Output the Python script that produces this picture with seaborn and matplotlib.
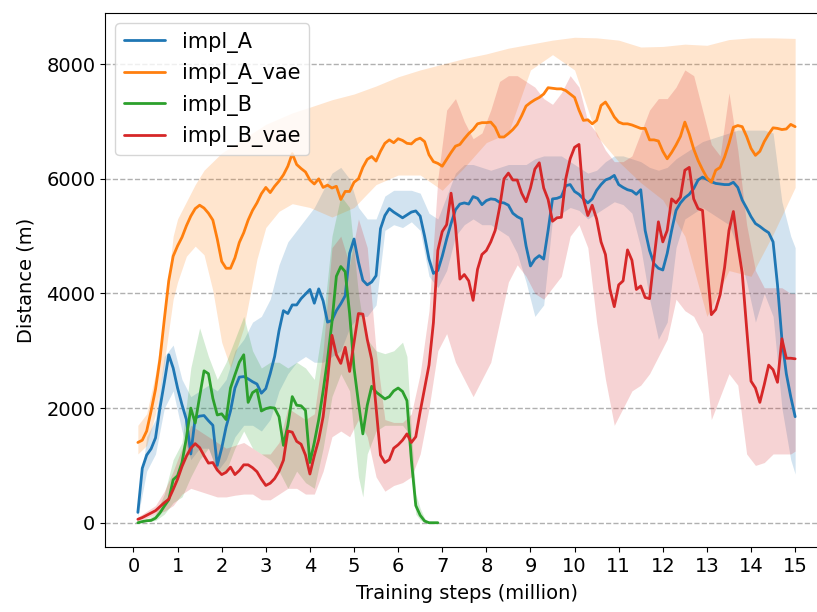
import numpy as np
import pandas as pd
import matplotlib
matplotlib.use("Agg")
import matplotlib.pyplot as plt
import seaborn as sns

# mean curves, one value every 0.1 million steps
steps = np.round(np.arange(1, 151) / 10, 1)
steps_b = np.round(np.arange(1, 70) / 10, 1)

impl_A = [180, 950, 1180, 1290, 1480, 2000, 2450, 2930, 2700, 2350,
          2060, 1800, 1200, 1830, 1860, 1870, 1780, 1700, 1000, 1300,
          1670, 1950, 2350, 2540, 2550, 2510, 2460, 2420, 2260, 2340,
          2600, 2900, 3350, 3700, 3650, 3800, 3800, 3910, 3990, 4070,
          3830, 4080, 3870, 3500, 3530, 3700, 3820, 3960, 4700, 4950,
          4550, 4230, 4150, 4200, 4310, 5130, 5360, 5480, 5420, 5370,
          5320, 5370, 5420, 5440, 5350, 5000, 4600, 4350, 4400, 4650,
          4950, 5220, 5460, 5560, 5580, 5560, 5690, 5660, 5550, 5620,
          5650, 5640, 5590, 5580, 5540, 5400, 5340, 5300, 4830, 4480,
          4600, 4660, 4600, 5100, 5650, 5660, 5690, 5880, 5900, 5780,
          5730, 5650, 5580, 5650, 5800, 5900, 5980, 6010, 6060, 5900,
          5850, 5810, 5790, 5730, 5810, 5100, 4750, 4520, 4440, 4410,
          4700, 5100, 5450, 5580, 5670, 5730, 5830, 5980, 6030, 5990,
          5950, 5920, 5910, 5900, 5900, 5940, 5850, 5630, 5490, 5340,
          5220, 5170, 5110, 5060, 4900, 4150, 3200, 2600, 2200, 1850]

impl_A_vae = [1400, 1440, 1600, 1950, 2330, 2850, 3550, 4220, 4650, 4830,
              4980, 5180, 5350, 5480, 5540, 5490, 5400, 5280, 4950, 4560,
              4440, 4440, 4620, 4890, 5060, 5280, 5450, 5580, 5740, 5850,
              5760, 5870, 5960, 6070, 6220, 6440, 6250, 6180, 6120, 5980,
              5910, 6000, 5850, 5890, 5840, 5870, 5640, 5780, 5780, 5940,
              6000, 6200, 6340, 6390, 6310, 6480, 6620, 6680, 6630, 6700,
              6670, 6620, 6610, 6680, 6710, 6650, 6420, 6300, 6270, 6220,
              6340, 6460, 6570, 6600, 6700, 6790, 6860, 6960, 6980, 6980,
              6990, 6900, 6730, 6730, 6790, 6860, 6950, 7100, 7270, 7330,
              7380, 7420, 7480, 7590, 7580, 7570, 7570, 7540, 7480, 7420,
              7200, 7020, 7030, 6960, 7020, 7280, 7340, 7220, 7080, 6990,
              6960, 6960, 6940, 6910, 6880, 6880, 6680, 6680, 6660, 6480,
              6350, 6460, 6590, 6740, 6990, 6780, 6520, 6320, 6160, 6020,
              5940, 6150, 6200, 6380, 6620, 6900, 6930, 6910, 6740, 6530,
              6410, 6480, 6650, 6780, 6890, 6880, 6860, 6870, 6950, 6910]

impl_B = [0, 20, 35, 40, 80, 170, 290, 400, 750, 820,
          1050, 1480, 2000, 1740, 2200, 2650, 2600, 2170, 1880, 1900,
          1800, 2350, 2580, 2800, 2930, 2100, 2270, 2320, 1950, 1990,
          2010, 2000, 1850, 1350, 1700, 2200, 2050, 2040, 1960, 1050,
          1400, 1800, 2300, 2850, 3500, 4300, 4470, 4380, 3650, 2700,
          2100, 1550, 2050, 2380, 2280, 2220, 2160, 2200, 2300, 2350,
          2290, 2130, 1100, 300, 130, 30, 0, 0, 0]

impl_B_vae = [60, 90, 130, 170, 210, 280, 350, 410, 580, 760,
              980, 1160, 1300, 1380, 1310, 1170, 1040, 1050, 920, 840,
              880, 970, 840, 910, 1010, 1010, 960, 890, 760, 650,
              690, 770, 900, 1090, 1600, 1580, 1420, 1370, 1180, 850,
              1170, 1450, 1850, 2500, 3270, 2930, 2780, 3060, 2640, 3150,
              3650, 3640, 3200, 2850, 2010, 1180, 1050, 1100, 1300, 1360,
              1440, 1550, 1400, 1500, 1940, 2340, 2750, 3490, 4750, 5080,
              5200, 5750, 5180, 4250, 4330, 4220, 3880, 4420, 4680, 4750,
              4900, 5100, 5500, 6000, 6100, 5980, 5980, 5750, 5600, 5840,
              6170, 6280, 5840, 5640, 5260, 5320, 5330, 6000, 6350, 6550,
              6600, 5650, 5360, 5540, 5300, 4900, 4680, 4080, 3770, 4150,
              4220, 4760, 4580, 4070, 4130, 3930, 3910, 4600, 5250, 4900,
              5100, 5650, 5580, 5680, 6150, 6200, 5650, 5480, 5450, 4500,
              3630, 3720, 3980, 4450, 5100, 5430, 4850, 4360, 3400, 2470,
              2350, 2100, 2410, 2750, 2670, 2450, 3210, 2870, 2870, 2860]

# shaded bands
A_band_x = [0.1, 0.3, 0.5, 0.7, 0.9, 1.1, 1.3, 1.5, 1.7, 1.9, 2.1, 2.3, 2.5, 2.7,
            2.9, 3.1, 3.3, 3.5, 3.7, 3.9, 4.1, 4.3, 4.5, 4.7, 4.9, 5.1, 5.3, 5.5,
            5.7, 5.9, 6.1, 6.3, 6.5, 6.7, 6.9, 7.1, 7.3, 7.5, 7.7, 7.9, 8.1, 8.3,
            8.5, 8.7, 8.9, 9.1, 9.3, 9.5, 9.7, 9.9, 10.1, 10.3, 10.5, 10.7, 10.9,
            11.1, 11.3, 11.5, 11.7, 11.9, 12.1, 12.3, 12.5, 12.7, 12.9, 13.1, 13.3,
            13.5, 13.7, 13.9, 14.1, 14.3, 14.5, 14.7, 14.9, 15.0]
A_low = [100, 900, 1200, 2000, 2300, 1600, 1100, 1300, 1300, 900, 1100, 1500, 1700, 1700,
         1600, 1800, 2300, 2600, 2800, 2900, 2800, 2800, 2900, 3000, 3400, 3600, 3600, 3800,
         5100, 5200, 5150, 5250, 5100, 4300, 4100, 4400, 5000, 5200, 5300, 5200, 5200, 5100,
         5000, 4700, 4200, 3600, 3800, 5300, 5400, 5500, 5450, 5300, 5400, 5500, 5600,
         5550, 5400, 4800, 3900, 3200, 3500, 4800, 5300, 5400, 5500, 5400, 5300,
         5200, 4800, 4200, 3500, 4000, 3600, 2000, 1100, 850]
A_high = [300, 1500, 1800, 2900, 3100, 2500, 2200, 2300, 2400, 2300, 2500, 3000, 3200, 3500,
          3600, 3900, 4500, 4900, 5100, 5300, 5500, 5800, 6100, 6200, 6000, 5500, 5300, 5300,
          5700, 5800, 5800, 5800, 5750, 5400, 5300, 5700, 6100, 6250, 6250, 6200, 6150, 6200,
          6250, 6250, 6250, 6350, 6400, 6400, 6400, 6300, 6200, 6100, 6150, 6300, 6400,
          6400, 6350, 6300, 6200, 6150, 6200, 6350, 6450, 6550, 6650, 6700, 6750,
          6800, 6850, 6850, 6850, 6850, 6800, 5600, 5000, 4800]

Avae_hi_x = [0.1, 0.3, 0.5, 0.7, 0.8, 0.9, 1.0, 1.2, 1.4, 1.6, 1.8, 2.0, 2.2, 2.5, 2.8,
             3.0, 3.3, 3.6, 4.0, 4.5, 5.0, 5.5, 6.0, 6.5, 7.0, 7.5, 8.0, 8.5, 9.0, 9.5,
             10.0, 10.5, 11.0, 11.5, 12.0, 12.5, 13.0, 13.5, 14.0, 14.5, 15.0]
Avae_high = [1700, 1900, 2600, 3600, 4300, 5000, 5300, 5600, 5900, 6150, 6300, 6450, 6550,
             6700, 6850, 6950, 7050, 7150, 7250, 7380, 7480, 7620, 7780, 7900, 8000, 8100,
             8180, 8280, 8350, 8420, 8470, 8460, 8420, 8300, 8310, 8350, 8330, 8430, 8460,
             8460, 8450]
Avae_lo_x = [0.1, 0.3, 0.5, 0.7, 0.9, 1.1, 1.3, 1.5, 1.7, 1.9, 2.1, 2.3, 2.5, 2.7, 2.9,
             3.1, 3.4, 3.7, 4.0, 4.3, 4.6, 4.9, 5.2, 5.5, 5.8, 6.1, 6.4, 6.7, 7.0, 7.3,
             7.6, 7.9, 8.2, 8.5, 8.8, 9.0, 9.3, 9.6, 9.9, 10.0, 10.2, 10.4, 10.6, 10.8,
             11.0, 11.3, 11.6, 11.9, 12.2, 12.5, 12.8, 13.0, 13.2, 13.4, 13.7, 14.0,
             14.3, 14.6, 14.8, 15.0]
Avae_low = [1200, 1350, 1900, 2800, 3900, 4500, 4800, 4850, 4500, 3600, 2700, 2700, 3400,
            4200, 5000, 5300, 5500, 5600, 5500, 5400, 5300, 5400, 5700, 5900, 6000, 6100,
            6150, 5900, 5800, 6000, 6300, 6600, 6700, 6800, 7200, 7900, 8100, 8200, 8000,
            7900, 7000, 6600, 6900, 6700, 6300, 6000, 5900, 5700, 5500, 5000, 4000, 3600,
            3700, 4300, 4600, 4300, 4500, 5300, 5800, 5850]

B_band_x = [0.1, 0.3, 0.5, 0.7, 0.9, 1.1, 1.3, 1.5, 1.7, 1.9, 2.1, 2.3, 2.5, 2.7, 2.9,
            3.1, 3.3, 3.5, 3.7, 3.9, 4.1, 4.3, 4.5, 4.7, 4.9, 5.1, 5.2, 5.3, 5.5, 5.7,
            5.9, 6.1, 6.2, 6.3, 6.4, 6.5, 6.6, 6.7, 6.9]
B_low = [0, 20, 40, 150, 350, 450, 800, 1100, 1300, 900, 900, 1300, 1600, 1300, 1200,
         1100, 900, 600, 900, 700, 600, 1300, 2200, 2600, 2300, 800, 450, 1200, 1600, 1700,
         1700, 1700, 1600, 800, 150, 50, 0, 0, 0]
B_high = [20, 60, 150, 500, 1100, 1400, 2700, 3400, 2900, 2500, 2800, 3200, 3600, 3000, 2700,
          2800, 2800, 2700, 2800, 2700, 2500, 3500, 5000, 5700, 5500, 4000, 3500, 3200, 3000,
          2950, 3000, 3150, 2900, 1600, 500, 250, 80, 0, 0]

Bvae_band_x = [0.1, 0.3, 0.5, 0.7, 0.9, 1.1, 1.3, 1.5, 1.7, 1.9, 2.1, 2.3, 2.5, 2.7, 2.9,
               3.1, 3.3, 3.5, 3.7, 3.9, 4.1, 4.3, 4.5, 4.7, 4.9, 5.1, 5.3, 5.5, 5.7, 5.9,
               6.1, 6.3, 6.5, 6.7, 6.9, 7.1, 7.3, 7.5, 7.7, 7.9, 8.1, 8.3, 8.5, 8.7, 8.9,
               9.1, 9.3, 9.5, 9.7, 9.9, 10.1, 10.3, 10.5, 10.7, 10.9, 11.1, 11.3, 11.5,
               11.7, 11.9, 12.1, 12.3, 12.5, 12.7, 12.9, 13.1, 13.3, 13.5, 13.7, 13.9,
               14.1, 14.3, 14.5, 14.7, 14.9, 15.0]
Bvae_low = [30, 80, 150, 200, 300, 500, 600, 550, 500, 450, 450, 480, 500, 500, 400,
            400, 500, 600, 600, 500, 500, 900, 1500, 1600, 1500, 1800, 1500, 800, 550, 650,
            700, 800, 1200, 2000, 3000, 3300, 2800, 2500, 2200, 2500, 2800, 3500, 4200, 4500,
            4300, 4000, 3900, 4100, 4300, 5000, 5200, 4800, 3500, 2500, 1700, 2000, 2300,
            2400, 2600, 2900, 3200, 3900, 3700, 3600, 3300, 1800, 2200, 2600, 2400, 1200,
            1000, 1050, 1200, 1200, 1200, 1250]
Bvae_high = [100, 200, 300, 550, 900, 1300, 1700, 1600, 1500, 1400, 1300, 1350, 1400, 1300,
             1200, 1200, 1400, 2000, 1900, 1800, 1900, 3000, 4800, 5000, 4500, 5300, 4800,
             3000, 1800, 1750, 1750, 1900, 2600, 3700, 6000, 7200, 7400, 7000, 6700, 6800,
             7200, 7700, 7800, 7800, 7700, 7600, 7400, 7300, 7500, 7800, 7600, 7000, 6800,
             6500, 6300, 6300, 6400, 6800, 7200, 7400, 7400, 7600, 7900, 7800, 7200, 6600,
             6400, 7500, 6500, 5200, 4400, 4100, 4100, 4100, 4000, 4000]

names = ["impl_A", "impl_A_vae", "impl_B", "impl_B_vae"]
colors = dict(zip(names, sns.color_palette("tab10", 4)))

df = pd.concat([
    pd.DataFrame({"step": steps, "dist": impl_A, "run": "impl_A"}),
    pd.DataFrame({"step": steps, "dist": impl_A_vae, "run": "impl_A_vae"}),
    pd.DataFrame({"step": steps_b, "dist": impl_B, "run": "impl_B"}),
    pd.DataFrame({"step": steps, "dist": impl_B_vae, "run": "impl_B_vae"}),
])

# plain matplotlib look: thin black spines, short ticks
sns.set_style("ticks", rc={
    "axes.linewidth": 0.8, "axes.edgecolor": "black",
    "xtick.major.size": 3.5, "ytick.major.size": 3.5,
    "xtick.major.width": 0.8, "ytick.major.width": 0.8,
    "xtick.color": "black", "ytick.color": "black",
    "text.color": "black", "axes.labelcolor": "black",
})
plt.rcParams["font.family"] = ["DejaVu Sans"]

fig = plt.figure(figsize=(8.17, 6.12), dpi=100)
ax = fig.add_axes([105 / 817, 65 / 612, 723 / 817, 534 / 612])

# bands first so the lines sit on top
ax.fill_between(A_band_x, A_low, A_high, color=colors["impl_A"], alpha=0.2, lw=0)
ax.fill_between(Avae_hi_x, np.interp(Avae_hi_x, Avae_lo_x, Avae_low), Avae_high,
                color=colors["impl_A_vae"], alpha=0.2, lw=0)
ax.fill_between(B_band_x, B_low, B_high, color=colors["impl_B"], alpha=0.2, lw=0)
ax.fill_between(Bvae_band_x, Bvae_low, Bvae_high, color=colors["impl_B_vae"], alpha=0.2, lw=0)

sns.lineplot(data=df, x="step", y="dist", hue="run", hue_order=names,
             palette=colors, linewidth=2, ax=ax)

ax.set_xticks(range(0, 16))
ax.set_yticks([0, 2000, 4000, 6000, 8000])
ax.yaxis.grid(True, linestyle="--", color="#b0b0b0", linewidth=1)
ax.tick_params(labelsize=14)
ax.set_xlabel("Training steps (million)", fontsize=14, labelpad=6)
ax.set_ylabel("Distance (m)", fontsize=14, labelpad=8)
ax.legend(loc="upper left", fontsize=15, title=None)

fig.savefig("out.png", dpi=100)
